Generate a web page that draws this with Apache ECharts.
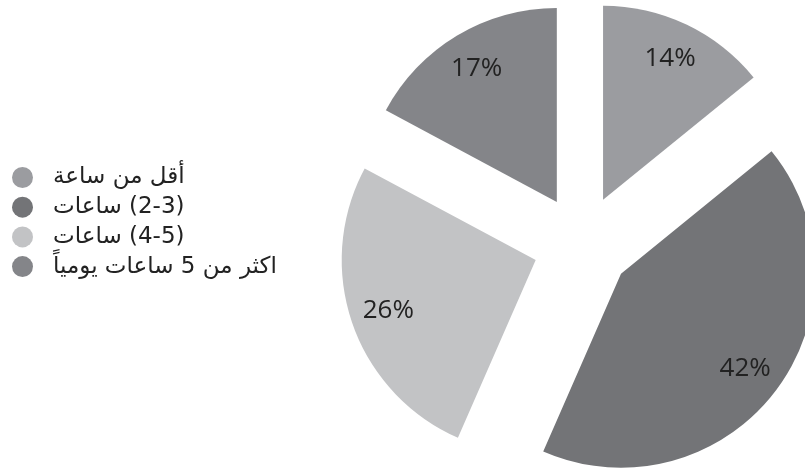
<!DOCTYPE html>
<html>
<head>
<meta charset="utf-8">
<script src="https://cdn.jsdelivr.net/npm/echarts@6/dist/echarts.min.js"></script>
<style>
  html, body { margin: 0; padding: 0; background: #ffffff; }
  #chart { width: 805px; height: 476px; }
</style>
</head>
<body>
<div id="chart"></div>
<script>
// Daily screen-time categories and their shares (%)
// (LRM marks keep the word on the left and the bracketed range on the right)
const categories = [
  'أقل من ساعة',
  '\u200Eساعات\u200E (2-3)',
  '\u200Eساعات\u200E (4-5)',
  'اكثر من 5 ساعات يومياً'
];
const shares = [14, 42, 26, 17];
const sliceColors = ['#9b9ca0', '#737477', '#c2c3c5', '#848589'];

const chart = echarts.init(document.getElementById('chart'), null, { renderer: 'canvas' });

const pieCenter = [582, 244];
const explode = 49;

const sliceData = categories.map((name, i) => ({
  name,
  value: shares[i],
  selected: true,
  itemStyle: { color: sliceColors[i] }
}));

// Invisible companion pie: wider radius so the "inside" labels sit further out
const labelData = categories.map((name, i) => ({
  name,
  value: shares[i],
  selected: true,
  itemStyle: { color: 'rgba(0,0,0,0)' }
}));

chart.setOption({
  animation: false,
  backgroundColor: '#ffffff',
  legend: {
    orient: 'vertical',
    left: 12,
    top: 166,
    padding: 0,
    itemWidth: 21,
    itemHeight: 21,
    itemGap: 6.7,
    icon: 'circle',
    selectedMode: false,
    data: categories,
    textStyle: {
      fontFamily: 'DejaVu Sans',
      fontSize: 23,
      color: '#222222',
      padding: [0, 0, 0, 15]
    }
  },
  series: [
    {
      type: 'pie',
      center: pieCenter,
      radius: 194,
      startAngle: 90,
      clockwise: true,
      selectedMode: 'multiple',
      selectedOffset: explode,
      silent: true,
      label: { show: false },
      labelLine: { show: false },
      itemStyle: { borderWidth: 0 },
      emphasis: { disabled: true },
      data: sliceData
    },
    {
      type: 'pie',
      center: pieCenter,
      radius: 306,
      startAngle: 90,
      clockwise: true,
      selectedMode: 'multiple',
      selectedOffset: explode,
      silent: true,
      z: 3,
      itemStyle: { borderWidth: 0 },
      emphasis: { disabled: true },
      labelLine: { show: false },
      label: {
        show: true,
        position: 'inside',
        formatter: '{c}%',
        fontFamily: 'Open Sans',
        fontSize: 26,
        color: '#222222'
      },
      data: labelData
    }
  ]
});
</script>
</body>
</html>
